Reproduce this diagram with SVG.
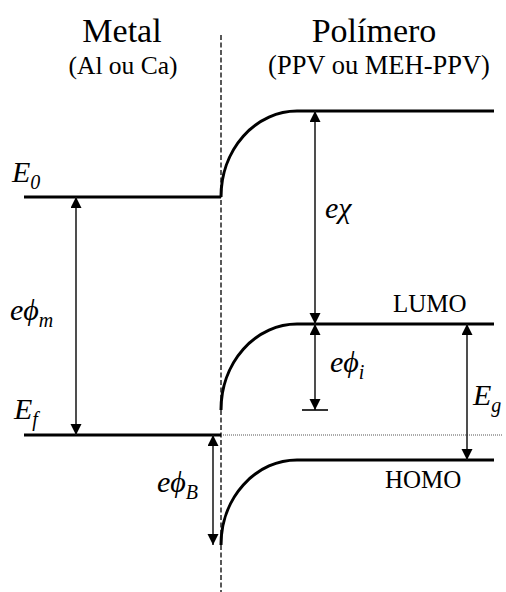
<svg xmlns="http://www.w3.org/2000/svg" width="506" height="592" viewBox="0 0 506 592">
<style>
text{font-family:'Liberation Serif','Times New Roman',serif;fill:#000}
.i{font-style:italic;font-size:30px}
.lvl{stroke:#000;stroke-width:3;fill:none}
.arr{stroke:#222;stroke-width:1.6;fill:none;marker-start:url(#ah);marker-end:url(#ah)}
</style>
<defs>
<marker id="ah" markerUnits="userSpaceOnUse" markerWidth="12" markerHeight="12" refX="11" refY="5.5" orient="auto-start-reverse">
<path d="M0,0 L11,5.5 L0,11 z" fill="#000"/>
</marker>
</defs>
<rect width="506" height="592" fill="#fff"/>
<g id="titles">
<text x="122" y="42" font-size="34" text-anchor="middle">Metal</text>
<text x="123" y="74" font-size="25.5" text-anchor="middle">(Al ou Ca)</text>
<text x="374" y="42" font-size="34" text-anchor="middle">Polímero</text>
<text x="379" y="74" font-size="26.5" text-anchor="middle">(PPV ou MEH-PPV)</text>
</g>
<g id="interface">
<line x1="221" y1="35" x2="221" y2="592" stroke="#222" stroke-width="1.5" stroke-dasharray="5,2.5"/>
<line x1="221" y1="435" x2="502" y2="435" stroke="#555" stroke-width="1" stroke-dasharray="1,1"/>
</g>
<g id="metal-levels">
<line class="lvl" x1="24" y1="197" x2="221" y2="197"/>
<line class="lvl" x1="24" y1="435" x2="221" y2="435"/>
</g>
<g id="vacuum-level">
<path class="lvl" d="M221,197 A76,86 0 0 1 297,111 L494,111"/>
</g>
<g id="lumo">
<path class="lvl" d="M221,410 A76,86 0 0 1 297,324 L494,324"/>
<text x="393" y="312" font-size="25">LUMO</text>
</g>
<g id="homo">
<path class="lvl" d="M221,545 A76,85 0 0 1 297,460 L494,460"/>
<text x="385" y="488" font-size="25">HOMO</text>
</g>
<g id="connectors">
<line class="arr" x1="76" y1="197" x2="76" y2="435"/>
<line class="arr" x1="315" y1="111" x2="315" y2="324"/>
<line class="arr" x1="315" y1="324" x2="315" y2="410"/>
<line x1="302" y1="410" x2="328" y2="410" stroke="#000" stroke-width="1.6"/>
<line class="arr" x1="467" y1="324" x2="467" y2="460"/>
<line class="arr" x1="213" y1="435" x2="213" y2="545"/>
</g>
<g id="labels">
<text class="i" x="12" y="182">E<tspan font-size="20" dy="7">0</tspan></text>
<text class="i" x="14" y="419">E<tspan font-size="20" dy="7">f</tspan></text>
<text class="i" x="10" y="320">eϕ<tspan font-size="20" dy="7">m</tspan></text>
<text class="i" x="325" y="218">eχ</text>
<text class="i" x="330" y="372">eϕ<tspan font-size="20" dy="7">i</tspan></text>
<text class="i" x="473" y="405">E<tspan font-size="20" dy="7">g</tspan></text>
<text class="i" x="157" y="492">eϕ<tspan font-size="20" dy="7">B</tspan></text>
</g>
</svg>
